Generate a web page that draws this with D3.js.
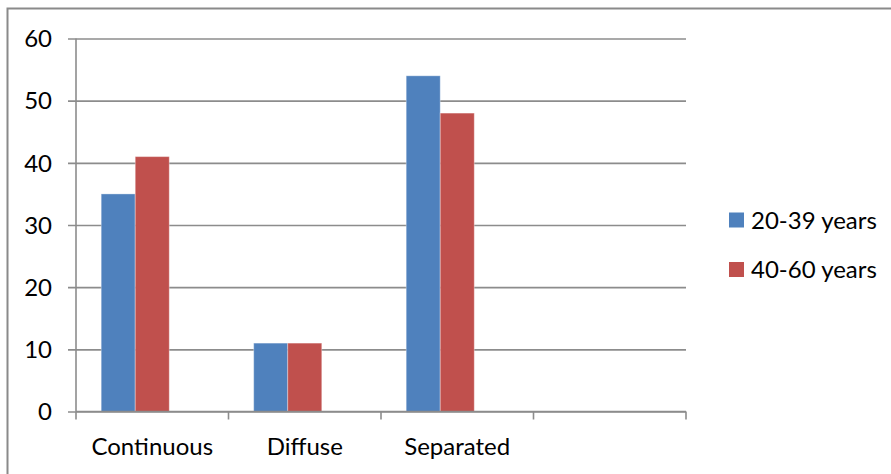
<!DOCTYPE html>
<html>
<head>
<meta charset="utf-8">
<script src="https://cdn.jsdelivr.net/npm/d3@7"></script>
<style>
  html, body { margin: 0; padding: 0; background: #fff; }
  svg { display: block; }
  text { font-family: Lato, "Open Sans", sans-serif; fill: #000; }
</style>
</head>
<body>
<svg id="chart" width="891" height="474"></svg>
<script>
// Category slots along the x axis (the last slot is left empty)
const categories = ["Continuous", "Diffuse", "Separated", ""];
// Series names and their colours
const seriesNames = ["20-39 years", "40-60 years"];
const seriesColors = ["#4F81BD", "#C0504D"];
// Values per category, one array per series
const values2039 = [35, 11, 54, null];
const values4060 = [41, 11, 48, null];
// Y axis ticks
const yTicks = [0, 10, 20, 30, 40, 50, 60];

const series = [values2039, values4060];

const svg = d3.select("#chart");
const plot = { left: 76, right: 686, top: 38.5, bottom: 411.5 };
const fontSize = 24;

// Outer frame
svg.append("rect")
  .attr("x", 7.5).attr("y", 8.5)
  .attr("width", 900).attr("height", 500)
  .attr("fill", "none").attr("stroke", "#8a8a8a").attr("stroke-width", 2);

const y = d3.scaleLinear().domain([0, 60]).range([plot.bottom, plot.top]);
const x0 = d3.scaleBand().domain(d3.range(categories.length))
  .range([plot.left, plot.right]).paddingInner(0).paddingOuter(0);
// Three bar positions per slot; the first two are used by the series above
const x1 = d3.scaleBand().domain(d3.range(3))
  .range([0, x0.bandwidth()]).paddingInner(0).paddingOuter(0.74);

// Horizontal gridlines with tick stubs to the left
const yAxis = d3.axisLeft(y).tickValues(yTicks).tickSize(plot.right - plot.left + 8)
  .tickPadding(16);
const gy = svg.append("g").attr("transform", `translate(${plot.right},0)`).call(yAxis);
gy.select(".domain").remove();
gy.selectAll(".tick line").attr("stroke", "#8c8c8c").attr("stroke-width", 1.6);
gy.selectAll(".tick text").attr("font-size", fontSize).attr("dy", "0.34em")
  .attr("font-family", "Lato, sans-serif").attr("fill", "#000");

// Vertical axis line
svg.append("line")
  .attr("x1", plot.left).attr("x2", plot.left)
  .attr("y1", plot.top).attr("y2", plot.bottom)
  .attr("stroke", "#8c8c8c").attr("stroke-width", 1.6);

// Bars
series.forEach((vals, si) => {
  svg.append("g").selectAll("rect")
    .data(vals.map((v, i) => ({ v, i })).filter(d => d.v != null))
    .join("rect")
    .attr("x", d => x0(d.i) + x1(si))
    .attr("y", d => y(d.v))
    .attr("width", x1.bandwidth())
    .attr("height", d => y(0) - y(d.v))
    .attr("fill", seriesColors[si])
    .attr("stroke", "rgba(255,255,255,0.35)")
    .attr("stroke-width", 1);
});

// X axis with tick marks at slot boundaries
svg.append("line")
  .attr("x1", plot.left).attr("x2", plot.right)
  .attr("y1", plot.bottom).attr("y2", plot.bottom)
  .attr("stroke", "#8c8c8c").attr("stroke-width", 1.6);
const bounds = d3.range(categories.length + 1).map(i => plot.left + i * x0.bandwidth());
svg.append("g").selectAll("line").data(bounds).join("line")
  .attr("x1", d => d).attr("x2", d => d)
  .attr("y1", plot.bottom).attr("y2", plot.bottom + 8)
  .attr("stroke", "#8c8c8c").attr("stroke-width", 1.6);
svg.append("g").selectAll("text").data(categories).join("text")
  .attr("x", (d, i) => x0(i) + x0.bandwidth() / 2)
  .attr("y", 455)
  .attr("text-anchor", "middle")
  .attr("font-size", fontSize)
  .text(d => d);

// Legend
const legend = svg.append("g");
seriesNames.forEach((name, i) => {
  const ly = 220 + i * 49.5;
  legend.append("rect")
    .attr("x", 729).attr("y", ly - 7.5)
    .attr("width", 15).attr("height", 15)
    .attr("fill", seriesColors[i]);
  legend.append("text")
    .attr("x", 751).attr("y", ly)
    .attr("dy", "0.36em")
    .attr("font-size", fontSize)
    .text(name);
});
</script>
</body>
</html>
